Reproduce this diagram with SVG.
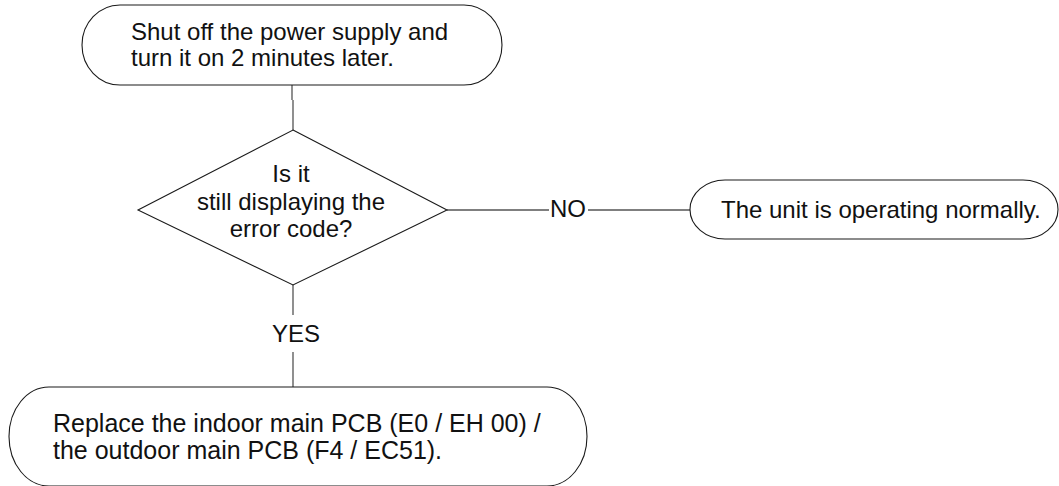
<svg xmlns="http://www.w3.org/2000/svg" width="1059" height="486" viewBox="0 0 1059 486">
<style>
.shape{fill:#fff;stroke:#1a1a1a;stroke-width:1.1}
.conn{fill:none;stroke:#555;stroke-width:1.3}
text{font-family:"Liberation Sans",Arial,Helvetica,sans-serif;font-size:24px;fill:#111}
.c{text-anchor:middle}
.big{font-size:25px}
</style>
<rect width="1059" height="486" fill="#fff"/>
<g id="connectors">
<path class="conn" d="M292 85V100M293 100V130"/>
<path class="conn" d="M293 285V315M293 352V387"/>
<path class="conn" d="M447 210H549M588 210H690"/>
</g>
<g id="start">
<rect class="shape" x="82" y="5" width="420" height="80" rx="38" ry="40"/>
<text x="131" y="39.5">Shut off the power supply and</text>
<text x="131" y="66">turn it on 2 minutes later.</text>
</g>
<g id="decision">
<polygon class="shape" points="293,130 447,210 293,285 138,210"/>
<text class="c" x="291" y="182">Is it</text>
<text class="c" x="291" y="210">still displaying the</text>
<text class="c" x="291" y="237">error code?</text>
</g>
<g id="label-no"><text class="c" x="568" y="217">NO</text></g>
<g id="label-yes"><text class="c" x="296" y="342">YES</text></g>
<g id="normal">
<rect class="shape" x="690" y="180" width="368" height="59" rx="35" ry="29.5"/>
<text x="721" y="218">The unit is operating normally.</text>
</g>
<g id="replace">
<rect class="shape" x="9" y="387" width="578" height="99" rx="40" ry="49.5"/>
<text class="big" x="53" y="432">Replace the indoor main PCB (E0 / EH 00) /</text>
<text class="big" x="53" y="459">the outdoor main PCB (F4 / EC51).</text>
</g>
</svg>
